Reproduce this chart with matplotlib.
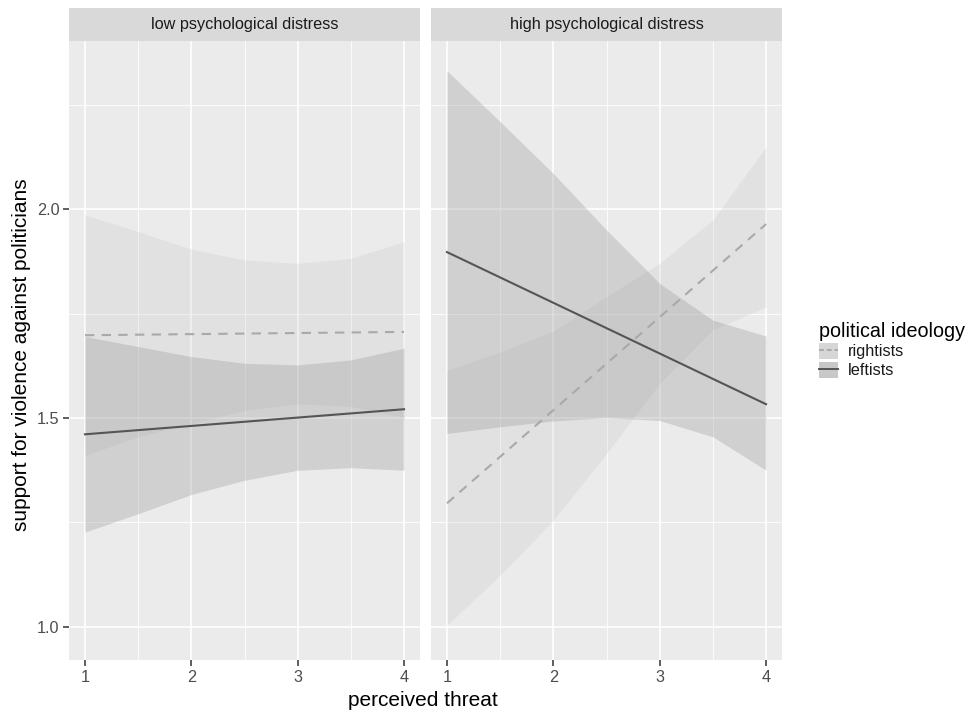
import matplotlib
matplotlib.use("Agg")
import matplotlib.pyplot as plt
from matplotlib.patches import Patch
from matplotlib.lines import Line2D
from matplotlib.legend_handler import HandlerTuple

plt.rcParams['font.family'] = ['Liberation Sans', 'DejaVu Sans']

# ---------------- data ----------------
panels = ["low psychological distress", "high psychological distress"]
groups = ["rightists", "leftists"]
x_ticks = [1, 2, 3, 4]
y_ticks = [1.0, 1.5, 2.0]
y_tick_labels = ["1.0", "1.5", "2.0"]

line_x = [1, 4]
low_right_line = [1.698, 1.706]
low_left_line = [1.461, 1.521]
high_right_line = [1.296, 1.964]
high_left_line = [1.897, 1.533]

band_x = [1, 1.5, 2, 2.5, 3, 3.5, 4]
low_right_lo = [1.411, 1.455, 1.487, 1.518, 1.534, 1.528, 1.502]
low_right_hi = [1.986, 1.946, 1.904, 1.878, 1.870, 1.882, 1.922]
low_left_lo = [1.227, 1.271, 1.317, 1.351, 1.375, 1.381, 1.375]
low_left_hi = [1.695, 1.671, 1.647, 1.631, 1.627, 1.639, 1.667]
high_right_lo = [1.004, 1.124, 1.255, 1.415, 1.583, 1.711, 1.766]
high_right_hi = [1.614, 1.658, 1.708, 1.790, 1.870, 1.974, 2.149]
high_left_lo = [1.463, 1.479, 1.493, 1.501, 1.494, 1.455, 1.375]
high_left_hi = [2.331, 2.209, 2.085, 1.950, 1.822, 1.734, 1.696]

panel_data = [
    dict(right_line=low_right_line, left_line=low_left_line,
         right_lo=low_right_lo, right_hi=low_right_hi,
         left_lo=low_left_lo, left_hi=low_left_hi),
    dict(right_line=high_right_line, left_line=high_left_line,
         right_lo=high_right_lo, right_hi=high_right_hi,
         left_lo=high_left_lo, left_hi=high_left_hi),
]

# ---------------- style ----------------
W, H = 968, 712
fig = plt.figure(figsize=(W / 100, H / 100), dpi=100)

panel_bg = "#EBEBEB"
strip_bg = "#D9D9D9"
right_fill, right_alpha = "#BBBBBB", 0.20
left_fill, left_alpha = "#999999", 0.33
right_line_col = "#A9A9A9"
left_line_col = "#555555"

small_fs = 11.7
title_fs = 15

panel_x = [69, 431]
panel_w = 351
panel_top, panel_bot = 41, 660
strip_top = 8

def fx(px):
    return px / W

def fy(py):
    return 1 - py / H

for i, pd in enumerate(panel_data):
    ax = fig.add_axes([fx(panel_x[i]), fy(panel_bot), fx(panel_w),
                       (panel_bot - panel_top) / H])
    ax.set_facecolor(panel_bg)
    ax.set_xlim(0.85, 4.15)
    ax.set_ylim(0.921, 2.402)
    for s in ax.spines.values():
        s.set_visible(False)
    ax.set_xticks(x_ticks)
    ax.set_xticks([1.5, 2.5, 3.5], minor=True)
    ax.set_yticks(y_ticks)
    ax.set_yticks([1.25, 1.75, 2.25], minor=True)
    ax.grid(which="major", color="white", linewidth=1.2)
    ax.grid(which="minor", color="white", linewidth=0.6)
    ax.set_axisbelow(True)
    ax.tick_params(which="major", length=4, width=1.1, color="#333333",
                   labelcolor="#4D4D4D", labelsize=small_fs, pad=3)
    ax.tick_params(which="minor", length=0)
    if i == 0:
        ax.set_yticklabels(y_tick_labels)
    else:
        ax.tick_params(axis="y", which="major", length=0, labelleft=False)
    ax.set_xticklabels([str(t) for t in x_ticks])

    ax.fill_between(band_x, pd["right_lo"], pd["right_hi"], color=right_fill,
                    alpha=right_alpha, linewidth=0, zorder=2)
    ax.fill_between(band_x, pd["left_lo"], pd["left_hi"], color=left_fill,
                    alpha=left_alpha, linewidth=0, zorder=2)
    ax.plot(line_x, pd["right_line"], color=right_line_col, linewidth=1.5,
            linestyle=(0, (4.5, 3.5)), zorder=3)
    ax.plot(line_x, pd["left_line"], color=left_line_col, linewidth=1.5,
            zorder=3)

    # facet strip
    sax = fig.add_axes([fx(panel_x[i]), fy(panel_top), fx(panel_w),
                        (panel_top - strip_top) / H])
    sax.set_facecolor(strip_bg)
    sax.set_xticks([])
    sax.set_yticks([])
    for s in sax.spines.values():
        s.set_visible(False)
    sax.text(0.5, 0.5, panels[i], ha="center", va="center",
             fontsize=small_fs, color="#1A1A1A", transform=sax.transAxes)

# axis titles
fig.text(fx(423), fy(700), "perceived threat", ha="center", va="center",
         fontsize=title_fs, color="black")
fig.text(fx(22), fy(355), "support for violence against politicians",
         ha="center", va="center", rotation=90, fontsize=title_fs,
         color="black")

# legend
handles = [
    (Patch(facecolor="#D6D6D6", edgecolor="none"),
     Line2D([], [], color=right_line_col, linewidth=1.4, linestyle=(0, (2.5, 1.5)))),
    (Patch(facecolor="#C8C8C8", edgecolor="none"),
     Line2D([], [], color=left_line_col, linewidth=1.4)),
]
leg = fig.legend(handles, groups, title="political ideology",
                 handler_map={tuple: HandlerTuple(ndivide=1)},
                 loc="center left", bbox_to_anchor=(fx(809), fy(350)),
                 frameon=False, fontsize=small_fs, title_fontsize=14.2,
                 handlelength=1.2, handleheight=1.1, handletextpad=0.6,
                 labelspacing=0.15, borderpad=0.1)
leg._legend_box.align = "left"
for t in leg.get_texts():
    t.set_color("#1A1A1A")

fig.savefig("out.png", dpi=100, facecolor="white")
